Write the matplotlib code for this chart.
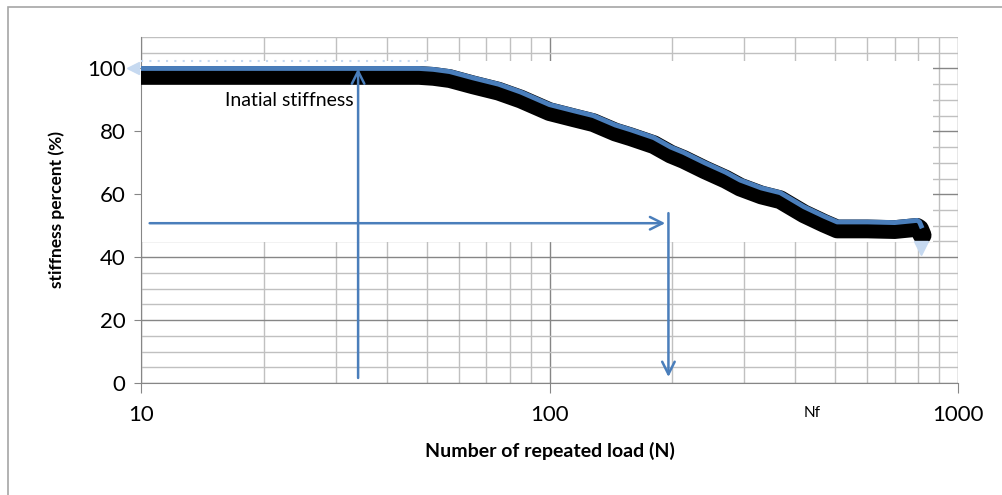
import matplotlib

matplotlib.use("Agg")
import matplotlib.pyplot as plt
import matplotlib.transforms as mtransforms
from matplotlib.patches import Rectangle
from matplotlib.ticker import LogLocator, MultipleLocator, NullFormatter

plt.rcParams["font.family"] = ["Lato", "DejaVu Sans"]

# stiffness degradation curve (cycles vs. % of initial stiffness)
cycles = [10, 20, 30, 40, 48, 52, 57, 65, 75, 85, 100, 115, 128, 145, 158,
          180, 198, 213, 240, 270, 293, 330, 367, 420, 470, 506, 600, 700,
          794, 805, 817]
stiffness = [100, 100, 100, 100, 100, 99.7, 99, 97, 95, 92.5, 88.5, 86.5, 85,
             82, 80.5, 78, 75, 73.3, 70, 67, 64.5, 62, 60.5, 56, 53, 51.2,
             51.2, 51, 51.7, 51.2, 49.2]

# guide arrows: initial stiffness, 50% level, failure cycle Nf
init_x, init_y0, init_y1 = 34, 1.6, 100
half_x0, half_x1, half_y = 10.5, 192, 50.8
nf_x, nf_y0, nf_y1 = 195.5, 54, 1.9
nf_label_x = 440

BLUE = "#4a7ebb"
LIGHT = "#c6d9f0"
MAJOR_GRID = "#868686"
MINOR_GRID = "#c0c0c0"

fig = plt.figure(figsize=(10.03, 4.95), dpi=100)
fig.patches.append(Rectangle((8 / 1003, -0.1), 1.2, 1 - 7 / 495 + 0.1,
                             transform=fig.transFigure, fill=False,
                             edgecolor="#a6a6a6", lw=1.2))
ax = fig.add_axes([141 / 1003, 1 - 383 / 495, 817 / 1003, 346 / 495])

ax.set_xscale("log")
ax.set_xlim(10, 1000)
ax.set_ylim(0, 110)
ax.xaxis.set_major_locator(LogLocator(base=10))
ax.xaxis.set_minor_locator(LogLocator(base=10, subs=range(2, 10)))
ax.xaxis.set_minor_formatter(NullFormatter())
ax.set_xticks([10, 100, 1000], ["10", "100", "1000"])
ax.set_yticks(range(0, 101, 20))
ax.yaxis.set_minor_locator(MultipleLocator(5))

ax.grid(which="major", color=MAJOR_GRID, lw=1.0)
ax.grid(which="minor", color=MINOR_GRID, lw=1.0)
ax.set_axisbelow(True)

for side in ("top", "right"):
    ax.spines[side].set_visible(False)
for side in ("left", "bottom"):
    ax.spines[side].set_color(MAJOR_GRID)
ax.tick_params(which="major", axis="x", length=7, color=MAJOR_GRID,
               labelsize=16, pad=9)
ax.tick_params(which="major", axis="y", length=5, color=MAJOR_GRID,
               labelsize=16, pad=6)
ax.tick_params(which="minor", length=0)

# blank panel behind the curve
ax.add_patch(Rectangle((10, 44.8), 859, 57.7, facecolor="white",
                       edgecolor="none", zorder=1))

shadow = ax.transData + mtransforms.ScaledTranslation(0, -0.07,
                                                     fig.dpi_scale_trans)
ax.plot(cycles, stiffness, color="black", lw=13.5, solid_capstyle="round",
        solid_joinstyle="round", transform=shadow, zorder=3)
ax.plot(cycles, stiffness, color=BLUE, lw=3.5, solid_capstyle="butt",
        zorder=4)
ax.plot([10, 50], [102.5, 102.5], color=LIGHT, lw=1.5, ls=(0, (1, 3)),
        zorder=3)
ax.plot([9.55], [100], marker="<", ms=9, color=LIGHT, clip_on=False,
        zorder=5)
ax.plot([811], [43.0], marker="v", ms=10, color=LIGHT, clip_on=False,
        zorder=5)

arrow = dict(arrowstyle="->,head_length=0.9,head_width=0.45", color=BLUE,
             lw=1.8, shrinkA=0, shrinkB=0)
ax.annotate("", xy=(init_x, init_y1), xytext=(init_x, init_y0),
            arrowprops=arrow, zorder=6)
ax.annotate("", xy=(half_x1, half_y), xytext=(half_x0, half_y),
            arrowprops=arrow, zorder=6)
ax.annotate("", xy=(nf_x, nf_y1), xytext=(nf_x, nf_y0),
            arrowprops=arrow, zorder=6)

ax.text(16.1, 89.8, "Inatial stiffness", fontsize=14, ha="left",
        va="center", zorder=7)
ax.text(nf_label_x, -9.5, "Nf", fontsize=11, ha="center", va="center",
        clip_on=False)

ax.set_xlabel("Number of repeated load (N)", fontsize=14,
              fontweight="bold", labelpad=12)
ax.set_ylabel("stiffness percent (%)", fontsize=12.5, fontweight="bold",
              labelpad=16)

fig.savefig("out.png", dpi=100)
